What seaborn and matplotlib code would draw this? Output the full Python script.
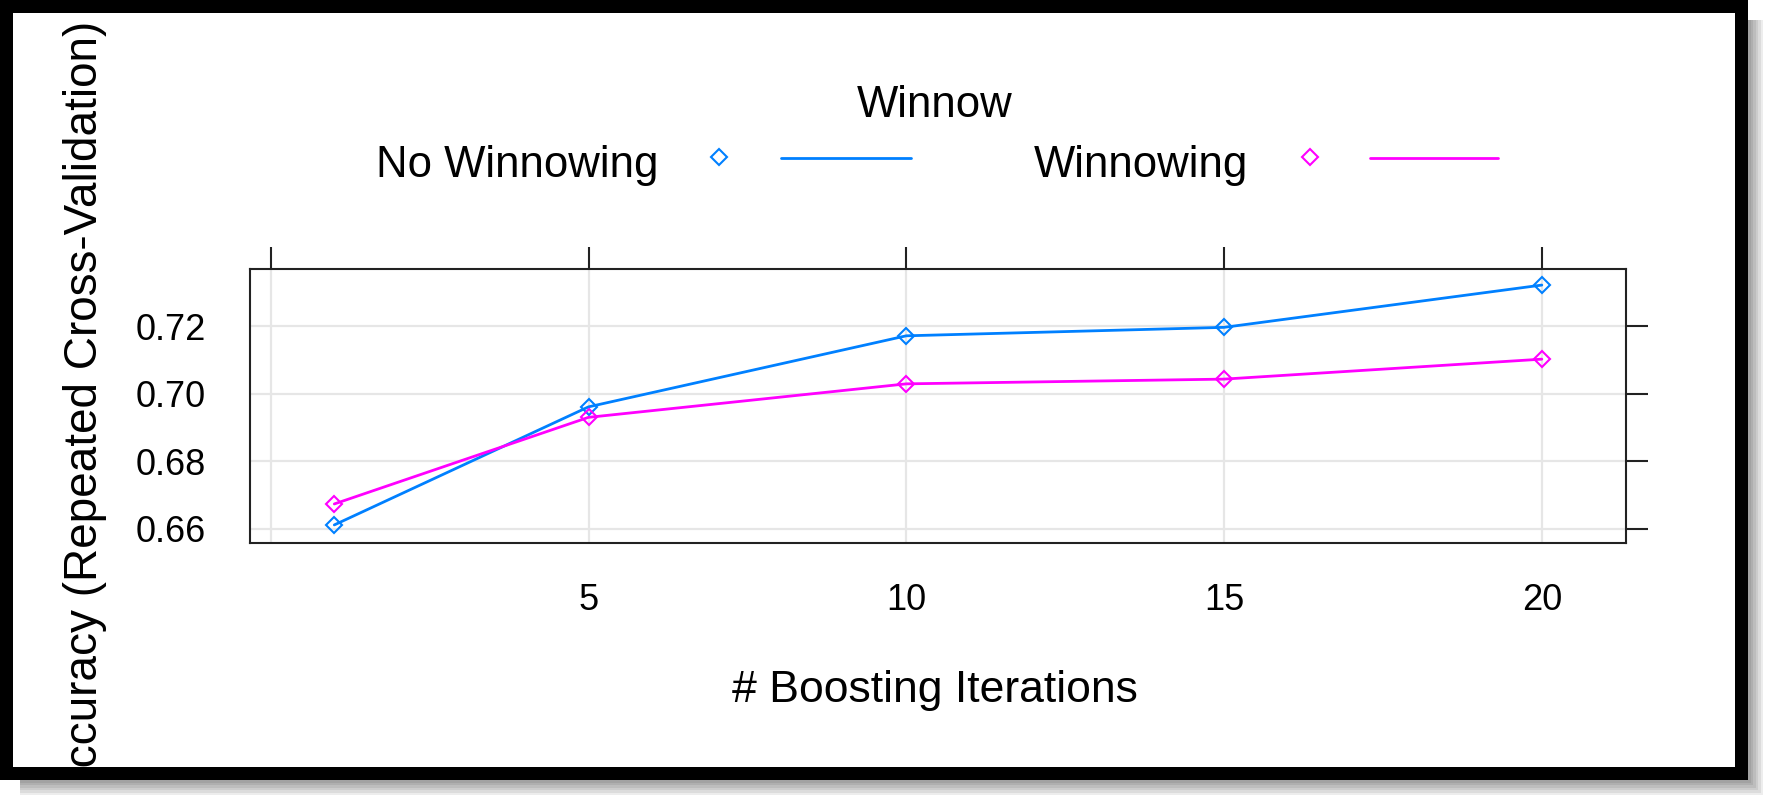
import matplotlib
matplotlib.use("Agg")
import pandas as pd
import seaborn as sns
import matplotlib.pyplot as plt
from matplotlib.patches import Rectangle
from matplotlib.lines import Line2D

# data
iterations = [1, 5, 10, 15, 20]
no_winnowing = [0.6612, 0.6961, 0.7171, 0.7196, 0.7321]
winnowing = [0.6674, 0.6930, 0.7029, 0.7043, 0.7102]
series_names = ["No Winnowing", "Winnowing"]
series_colors = ["#0080ff", "#ff00ff"]
x_ticks = [0, 5, 10, 15, 20]
x_tick_labels = ["", "5", "10", "15", "20"]
y_ticks = [0.66, 0.68, 0.70, 0.72]
y_tick_labels = ["0.66", "0.68", "0.70", "0.72"]

df = pd.DataFrame({
    "iter": iterations * 2,
    "acc": no_winnowing + winnowing,
    "Winnow": [series_names[0]] * len(iterations) + [series_names[1]] * len(iterations),
})

sns.set_theme(style="white")
plt.rcParams["font.family"] = ["Liberation Sans", "DejaVu Sans"]

W, H = 1766, 799
fig = plt.figure(figsize=(W / 100, H / 100), dpi=100)
fig.patch.set_facecolor("white")


def fx(px):
    return px / W


def fy(py):
    return 1 - py / H


# panel
ax = fig.add_axes([fx(250.4), fy(543.3), (1625.7 - 250.4) / W, (543.3 - 269.3) / H])

for name, color in zip(series_names, series_colors):
    sns.lineplot(data=df[df["Winnow"] == name], x="iter", y="acc", ax=ax,
                 color=color, linewidth=2, marker="D", markersize=8.5,
                 markerfacecolor="none", markeredgecolor=color,
                 markeredgewidth=1.5, legend=False)

ax.set_xlim(-0.32, 21.32)
ax.set_ylim(0.65577, 0.73676)
ax.set_xticks(x_ticks, x_tick_labels)
ax.set_yticks(y_ticks, y_tick_labels)
ax.set_xlabel("")
ax.set_ylabel("")
ax.grid(True, color="#e6e6e6", linewidth=1.6)
ax.set_axisbelow(True)
for sp in ax.spines.values():
    sp.set_visible(True)
    sp.set_linewidth(1.5)
    sp.set_color("#222222")
ax.tick_params(axis="both", direction="out", length=15.8, width=1.5,
               color="#222222", labelsize=26, labelcolor="black",
               top=True, right=True, labeltop=False, labelright=False)
ax.tick_params(axis="x", pad=13)
ax.tick_params(axis="y", pad=16)

# axis titles
fig.text(fx(934.6), fy(701.7), "# Boosting Iterations", ha="center",
         va="baseline", fontsize=32, color="black")
fig.text(fx(97), fy(409), "Accuracy (Repeated Cross-Validation)", rotation=90,
         rotation_mode="anchor", ha="center", va="baseline", fontsize=33,
         color="black")

# key on top
fig.text(fx(935), fy(116.7), "Winnow", ha="center", va="baseline",
         fontsize=31.5, color="black")
key_text_right = [659, 1248]
key_marker_x = [719, 1309.7]
key_line_x = [(780.5, 910.6), (1369.8, 1498.4)]
for name, color, tr, mx, (l0, l1) in zip(series_names, series_colors,
                                         key_text_right, key_marker_x, key_line_x):
    fig.text(fx(tr), fy(176.7), name, ha="right", va="baseline",
             fontsize=31.5, color="black")
    fig.add_artist(Line2D([fx(mx)], [fy(157)], marker="D", markersize=8.5,
                          markerfacecolor="none", markeredgecolor=color,
                          markeredgewidth=1.5, linestyle="none",
                          transform=fig.transFigure))
    fig.add_artist(Line2D([fx(l0), fx(l1)], [fy(157.5), fy(157.5)], color=color,
                          linewidth=2, transform=fig.transFigure))


# screenshot frame: white outside, soft shadow, thick black border
def px_rect(x0, y0, x1, y1, **kw):
    r = Rectangle((fx(x0), fy(y1)), (x1 - x0) / W, (y1 - y0) / H,
                  transform=fig.transFigure, linewidth=0, **kw)
    fig.add_artist(r)


px_rect(1748, 0, W, H, color="white", zorder=10)
px_rect(0, 780, W, H, color="white", zorder=10)
for i in range(6):
    d = 15 * (1 - i / 6)
    px_rect(1748, 20, 1748 + d, 780 + d, color="black", alpha=0.07, zorder=11)
    px_rect(20, 780, 1748, 780 + d, color="black", alpha=0.07, zorder=11)

px_rect(0, 0, 1748, 13, color="black", zorder=12)
px_rect(0, 767, 1748, 780, color="black", zorder=12)
px_rect(0, 0, 13, 780, color="black", zorder=12)
px_rect(1735, 0, 1748, 780, color="black", zorder=12)

fig.savefig("out.png", dpi=100)
